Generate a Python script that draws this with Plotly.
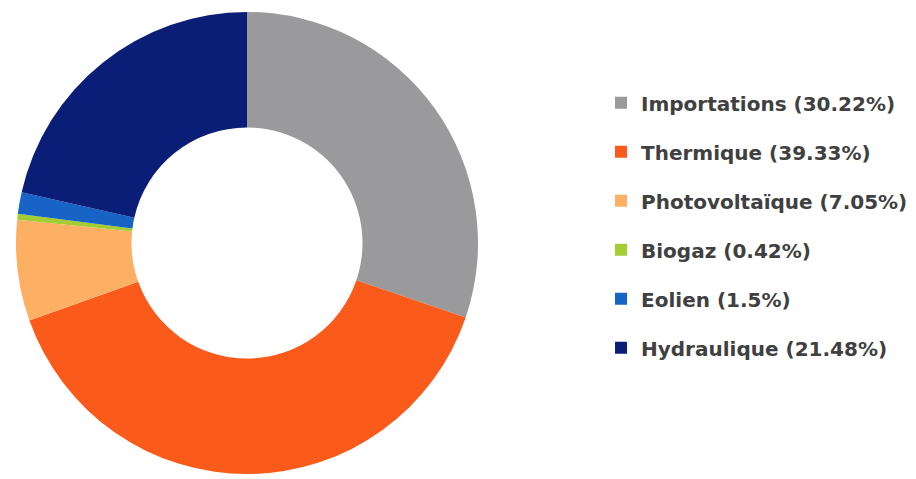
import plotly.graph_objects as go

labels = ["Importations", "Thermique", "Photovoltaïque", "Biogaz", "Eolien", "Hydraulique"]
values = [30.22, 39.33, 7.05, 0.42, 1.5, 21.48]
legend_text = ["Importations (30.22%)", "Thermique (39.33%)", "Photovoltaïque (7.05%)",
               "Biogaz (0.42%)", "Eolien (1.5%)", "Hydraulique (21.48%)"]
colors = ["#9A9A9C", "#FA5A1A", "#FDB064", "#A6CC33", "#1763C6", "#0A1E78"]

W, H = 916, 479
fig = go.Figure()
fig.add_trace(go.Pie(
    labels=labels, values=values, sort=False, direction="clockwise", rotation=0,
    hole=0.5, marker=dict(colors=colors, line=dict(width=0)),
    textinfo="none", hoverinfo="label+percent", showlegend=False,
    domain=dict(x=[8 / W, 470 / W], y=[1 - 466 / H, 1 - 4 / H]),
))
for i, (t, c) in enumerate(zip(legend_text, colors)):
    fig.add_trace(go.Scatter(
        x=[None], y=[None], mode="markers", name=t, legendgroup=f"g{i}",
        marker=dict(symbol="square", size=12, color=c),
        showlegend=True,
    ))

fig.update_layout(
    width=W, height=H, margin=dict(l=0, r=0, t=0, b=0),
    paper_bgcolor="white", plot_bgcolor="white",
    xaxis=dict(visible=False), yaxis=dict(visible=False),
    legend=dict(x=0.6474, y=0.843, xanchor="left", yanchor="top",
                font=dict(family="DejaVu Sans", size=20, color="#404040", weight=600),
                tracegroupgap=20, itemwidth=30, bgcolor="rgba(0,0,0,0)"),
)
fig.write_html("out.html")
